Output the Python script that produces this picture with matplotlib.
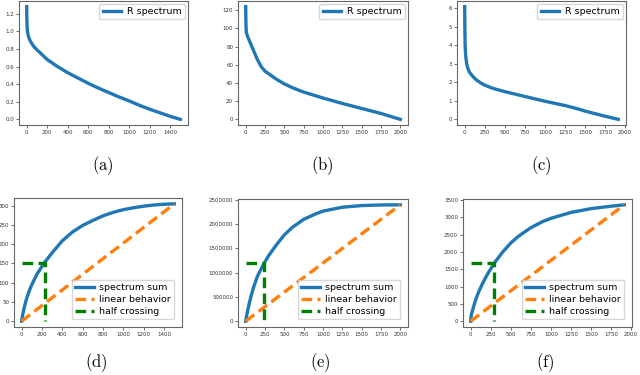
import numpy as np
import matplotlib
matplotlib.use("Agg")
from matplotlib import pyplot as plt

plt.rcParams['mathtext.fontset'] = 'cm'

# ---------------------------------------------------------------------------
# Values

# (a) R spectrum
a_idx = [0, 1, 3, 6, 10, 20, 35, 50, 75, 100, 150, 200, 300, 400, 500, 600, 700,
         800, 900, 1000, 1100, 1200, 1300, 1400, 1500]
a_val = [1.28, 1.18, 1.08, 1.02, 0.98, 0.93, 0.89, 0.86, 0.82, 0.79, 0.735, 0.68,
         0.60, 0.53, 0.47, 0.41, 0.355, 0.305, 0.255, 0.21, 0.16, 0.115, 0.075,
         0.035, 0.0]

# (b) R spectrum
b_idx = [0, 1, 3, 6, 10, 25, 50, 75, 100, 150, 200, 250, 300, 400, 500, 600, 750,
         1000, 1250, 1500, 1750, 2000]
b_val = [124, 115, 105, 98, 95, 91, 86, 81, 76, 66, 58, 53, 50, 44, 39, 35, 30,
         23.5, 17.5, 12, 6.5, 0]

# (c) R spectrum
c_idx = [0, 1, 3, 6, 10, 15, 25, 40, 60, 100, 150, 200, 250, 350, 500, 750, 1000,
         1250, 1400, 1500, 1650, 1750, 1915]
c_val = [6.1, 5.5, 4.6, 4.0, 3.6, 3.35, 3.0, 2.75, 2.55, 2.33, 2.12, 1.97, 1.85,
         1.68, 1.5, 1.24, 0.98, 0.75, 0.58, 0.45, 0.28, 0.17, 0.0]

# (d) spectrum sum
d_idx = [0, 10, 25, 50, 75, 100, 150, 225, 300, 400, 500, 600, 700, 800, 900,
         1000, 1100, 1200, 1300, 1400, 1500]
d_val = [0, 16, 35, 60, 79, 95, 122, 152.5, 178, 209, 232, 249, 262, 274, 283,
         290, 295, 299, 302, 304, 305]
d_half = 225

# (e) spectrum sum
e_idx = [0, 10, 25, 50, 75, 100, 150, 200, 240, 300, 400, 500, 600, 750, 900,
         1000, 1250, 1500, 1750, 2000]
e_val = [0, 0.1e6, 0.22e6, 0.4e6, 0.55e6, 0.69e6, 0.92e6, 1.08e6, 1.2e6, 1.36e6,
         1.58e6, 1.78e6, 1.93e6, 2.1e6, 2.21e6, 2.27e6, 2.35e6, 2.385e6, 2.397e6,
         2.4e6]
e_half = 240

# (f) spectrum sum
f_idx = [0, 5, 10, 25, 50, 75, 100, 150, 200, 295, 400, 500, 600, 750, 900, 1000,
         1250, 1500, 1750, 1915]
f_val = [0, 130, 200, 330, 530, 700, 850, 1100, 1320, 1680, 2000, 2260, 2460,
         2700, 2880, 2970, 3140, 3250, 3320, 3360]
f_half = 295

top_captions = ['(a)', '(b)', '(c)']
bottom_captions = ['(d)', '(e)', '(f)']

# ---------------------------------------------------------------------------
W, H = 640, 375
fig = plt.figure(figsize=(6.4, 3.75), dpi=100)


def add_ax(left, top, right, bottom):
    return fig.add_axes([left / W, 1 - bottom / H, (right - left) / W, (bottom - top) / H])


def style(ax):
    for s in ax.spines.values():
        s.set_edgecolor('#666666')
        s.set_linewidth(0.8)
    ax.tick_params(labelsize=4, length=2, width=0.5, pad=1.5, colors='#333333')
    ax.ticklabel_format(style='plain', useOffset=False)


legend_kw = dict(fontsize=6.8, handlelength=2, borderpad=0.35,
                 handletextpad=0.6, labelspacing=0.3, edgecolor='#cccccc')

# Top row: spectra
top_boxes = [(19, 1, 188, 125), (238, 1, 408, 125), (457, 1, 626, 125)]
top_data = [(a_idx, a_val), (b_idx, b_val), (c_idx, c_val)]
top_xticks = [np.arange(0, 1401, 200), np.arange(0, 2001, 250), np.arange(0, 2001, 250)]
top_yticks = [np.arange(0, 1.3, 0.2), np.arange(0, 121, 20), np.arange(0, 7, 1)]
for box, (x, y), xt, yt in zip(top_boxes, top_data, top_xticks, top_yticks):
    ax = add_ax(*box)
    ax.plot(x, y, color='#1f77b4', lw=2.4, label='R spectrum')
    ax.legend(loc='upper right', borderaxespad=0.3, **legend_kw)
    ax.set_xticks(xt)
    ax.set_yticks(yt)
    style(ax)

# Bottom row: cumulative sums
bot_boxes = [(14, 198, 182, 327), (238, 199, 408, 327), (463, 199, 632, 327)]
bot_data = [(d_idx, d_val, d_half), (e_idx, e_val, e_half), (f_idx, f_val, f_half)]
bot_xticks = [np.arange(0, 1401, 200), np.arange(0, 2001, 250), np.arange(0, 2001, 250)]
bot_yticks = [np.arange(0, 301, 50), np.arange(0, 2500001, 500000), np.arange(0, 3501, 500)]
for box, (x, y, xh), xt, yt in zip(bot_boxes, bot_data, bot_xticks, bot_yticks):
    ax = add_ax(*box)
    ax.plot(x, y, color='#1f77b4', lw=2.4, label='spectrum sum')
    ax.plot([x[0], x[-1]], [y[0], y[-1]], color='#ff7f0e', lw=2.4,
            dashes=(3.2, 1.6), label='linear behavior')
    half = y[-1] / 2
    ax.plot([0, xh, xh], [half, half, 0], color='green', lw=2.4,
            dashes=(3.2, 1.6), label='half crossing')
    ax.legend(loc='lower right', borderaxespad=0.8, **legend_kw)
    ax.set_xticks(xt)
    ax.set_yticks(yt)
    style(ax)

# Sub-captions
for xc, cap in zip([103, 322, 541], top_captions):
    fig.text(xc / W, 1 - 166 / H, r'$\mathrm{%s}$' % cap, ha='center', va='center',
             fontsize=12)
for xc, cap in zip([96, 320, 545], bottom_captions):
    fig.text(xc / W, 1 - 363 / H, r'$\mathrm{%s}$' % cap, ha='center', va='center',
             fontsize=12)

fig.savefig('out.png', dpi=100)
